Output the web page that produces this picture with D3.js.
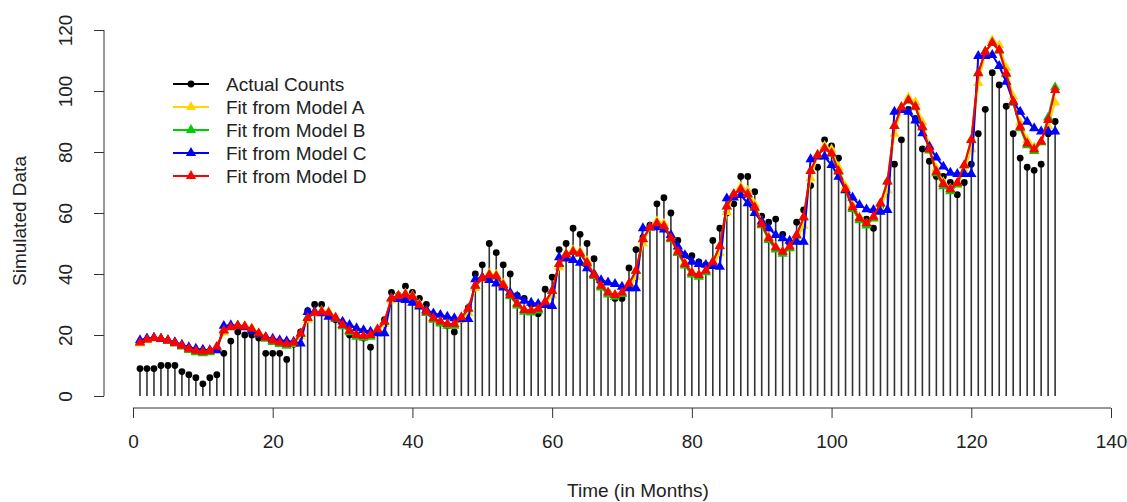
<!DOCTYPE html>
<html>
<head>
<meta charset="utf-8">
<script src="https://cdnjs.cloudflare.com/ajax/libs/d3/7.8.5/d3.min.js"></script>
<style>
  body { margin: 0; background: #fff; }
  text { font-family: "Liberation Sans", Arial, sans-serif; fill: #222; }
</style>
</head>
<body>
<div id="chart"></div>
<script>
/*global d3*/

//monthly actual counts, months 1..132
var actual = [
  9,9,9,10,10,10,8,7,6,4,6,7,
  14,18,21,20,20,19,14,14,14,12,17,21,
  28,30,30,27,25,23,20,20,19,16,21,25,
  34,33,36,34,32,30,26,24,23,21,25,29,
  40,43,50,47,43,40,33,32,30,27,35,39,
  48,50,55,53,50,45,37,34,32,32,42,48,
  52,56,63,65,60,51,46,46,44,43,51,55,
  60,63,72,72,67,59,57,58,53,50,57,61,
  69,75,84,82,78,68,62,58,58,55,62,70,
  76,84,94,91,81,77,72,72,70,66,70,76,
  86,94,106,102,95,86,78,75,74,76,86,90
];

//fitted values from the four models
var fitA = [
  17.2,18.3,18.9,18.8,18.3,17.5,16.6,15.6,14.8,14.4,14.6,15.6,
  20.8,22.6,23.2,23.0,22.2,20.7,19.3,18.2,17.4,16.8,17.0,19.6,
  25.0,27.4,27.9,27.6,25.8,23.4,21.4,19.9,19.5,19.7,21.3,23.6,
  31.4,33.0,33.6,32.9,30.1,27.8,25.6,24.4,23.5,23.3,25.0,27.2,
  35.4,38.8,40.2,39.8,36.9,33.4,30.4,28.3,27.9,28.3,30.1,33.0,
  42.2,46.6,47.8,47.4,44.3,40.2,36.5,34.1,33.1,33.5,35.8,39.0,
  50.0,55.2,57.3,56.6,52.6,48.0,43.8,40.6,39.6,40.6,42.8,46.8,
  60.3,66.0,68.6,67.3,62.9,57.2,52.2,48.9,47.2,48.4,51.3,55.8,
  71.4,78.6,82.0,80.8,75.0,68.8,62.6,58.6,56.5,58.0,61.5,67.4,
  86.0,94.2,97.9,96.3,89.8,82.2,74.5,70.1,68.0,69.2,73.9,80.9,
  102.6,112.1,116.6,115.0,107.6,98.2,89.7,83.9,81.6,83.2,88.4,96.2
];

var fitB = [
  17.6,18.6,19.1,18.8,18.1,17.2,16.2,15.1,14.3,14.0,14.3,15.9,
  21.6,22.6,23.0,22.7,21.8,20.2,18.8,17.7,17.0,16.5,17.1,20.4,
  25.7,27.3,27.5,27.1,25.3,22.9,20.9,19.4,19.1,19.4,21.5,24.3,
  32.1,32.8,33.2,32.4,29.5,27.2,25.0,23.8,23.0,23.0,25.4,28.6,
  36.2,38.6,39.6,39.1,36.1,32.7,29.7,27.6,27.4,28.0,30.6,34.4,
  43.4,46.4,47.2,46.6,43.4,39.3,35.6,33.3,32.5,33.4,36.6,41.0,
  51.5,55.3,56.5,55.5,51.4,46.9,42.8,39.8,39.1,40.6,43.7,49.1,
  62.2,66.2,67.7,66.0,61.6,56.0,51.1,48.0,46.6,48.4,52.5,58.6,
  73.9,79.0,81.1,79.4,73.5,67.4,61.3,57.6,55.9,58.3,63.0,70.4,
  88.6,94.7,96.9,94.7,88.0,80.5,73.0,68.8,67.1,69.4,75.6,84.1,
  106.0,113.0,115.7,113.2,105.5,96.1,87.8,82.2,80.3,83.2,91.3,101.2
];

var fitC = [
  18.3,18.9,19.0,18.7,18.3,17.6,16.8,16.0,15.5,15.2,15.0,15.0,
  23.0,23.2,23.0,22.5,21.3,20.2,19.3,18.8,18.3,18.0,17.8,17.2,
  27.5,27.6,27.1,26.0,25.5,24.4,23.3,22.2,21.6,21.1,20.6,20.6,
  32.0,31.8,31.5,30.6,29.3,28.2,27.1,26.6,26.0,25.5,25.2,25.2,
  38.3,38.9,38.0,36.9,35.6,33.9,32.6,31.2,30.6,30.2,29.8,29.5,
  45.5,45.1,44.6,43.7,41.9,40.0,38.0,37.2,36.7,35.8,35.3,35.3,
  55.0,55.3,55.3,54.6,52.8,49.0,46.2,44.0,43.3,43.0,42.6,42.4,
  64.8,65.1,65.9,63.2,60.0,57.2,55.0,52.8,51.7,50.9,50.6,50.6,
  77.6,78.5,78.5,75.7,71.9,67.5,65.1,62.6,61.2,61.0,60.4,61.0,
  93.2,93.8,93.2,90.3,86.1,81.7,78.2,75.2,73.2,72.8,72.8,72.8,
  111.5,111.5,111.8,108.2,103.0,96.5,93.2,89.9,87.8,86.7,86.7,86.7
];

var fitD = [
  17.5,18.5,19.0,18.8,18.2,17.4,16.5,15.5,14.8,14.5,14.8,16.2,
  21.5,22.5,23.0,22.8,22.0,20.5,19.2,18.2,17.5,17.0,17.5,20.5,
  25.6,27.3,27.6,27.3,25.6,23.3,21.4,20.0,19.7,20.0,21.9,24.4,
  32.0,32.8,33.3,32.6,29.8,27.6,25.5,24.4,23.6,23.6,25.8,28.7,
  36.1,38.6,39.7,39.3,36.4,33.1,30.2,28.2,28.0,28.6,30.9,34.5,
  43.3,46.4,47.3,46.8,43.7,39.7,36.1,33.9,33.1,33.9,36.9,41.1,
  51.4,55.3,56.6,55.7,51.7,47.3,43.3,40.4,39.7,41.1,44.0,49.2,
  62.1,66.2,67.8,66.2,61.9,56.4,51.7,48.7,47.3,49.0,52.8,58.6,
  73.8,79.0,81.2,79.6,73.8,67.8,61.9,58.3,56.6,58.8,63.2,70.3,
  88.5,94.7,97.0,94.9,88.3,80.9,73.5,69.5,67.8,69.9,75.7,83.9,
  105.8,112.9,115.8,113.4,105.8,96.5,88.3,82.8,80.9,83.4,90.5,100.3
];

var xTicks = [0, 20, 40, 60, 80, 100, 120, 140];
var yTicks = [0, 20, 40, 60, 80, 100, 120];

var fits = [
  {name: "Fit from Model A", color: "#FFD700", values: fitA},
  {name: "Fit from Model B", color: "#00CD00", values: fitB},
  {name: "Fit from Model C", color: "#0000FF", values: fitC},
  {name: "Fit from Model D", color: "#FF0000", values: fitD}
];

var W = 1127, H = 502;
var fontSize = "19px";

var svg = d3.select("#chart").append("svg")
    .attr("width", W)
    .attr("height", H);

//scales, plot region in pixels
var x = d3.scaleLinear().domain([0, 140]).range([133, 1111]);
var y = d3.scaleLinear().domain([0, 120]).range([396, 30]);

var axisY = 408, axisX = 104;

//x axis (R style, detached from the plot)
var gx = svg.append("g")
    .attr("transform", "translate(0," + axisY + ")")
    .call(d3.axisBottom(x).tickValues(xTicks).tickSize(10).tickPadding(17).tickSizeOuter(0));
gx.select(".domain").attr("d", "M" + x(0) + ",0H" + x(140)).attr("stroke", "#333");
gx.selectAll(".tick line").attr("stroke", "#333");
gx.selectAll(".tick text")
    .style("font-size", fontSize)
    .style("font-family", "Liberation Sans, Arial, sans-serif")
    .attr("fill", "#222");

//y axis with rotated labels
var gy = svg.append("g")
    .attr("transform", "translate(" + axisX + ",0)")
    .call(d3.axisLeft(y).tickValues(yTicks).tickSize(10).tickSizeOuter(0));
gy.select(".domain").attr("d", "M0," + y(0) + "V" + y(120)).attr("stroke", "#333");
gy.selectAll(".tick line").attr("stroke", "#333");
gy.selectAll(".tick text")
    .attr("x", 0).attr("dy", "0.36em")
    .attr("transform", "translate(-39,0) rotate(-90)")
    .attr("text-anchor", "middle")
    .style("font-size", fontSize)
    .style("font-family", "Liberation Sans, Arial, sans-serif")
    .attr("fill", "#222");

//axis titles
svg.append("text")
    .attr("x", (x(0) + x(140)) / 2 + 16)
    .attr("y", 497)
    .attr("text-anchor", "middle")
    .style("font-size", fontSize)
    .text("Time (in Months)");

svg.append("text")
    .attr("transform", "translate(26," + (y(60) + 8) + ") rotate(-90)")
    .attr("text-anchor", "middle")
    .style("font-size", fontSize)
    .text("Simulated Data");

//actual counts: vertical stems + dots
var counts = actual.map(function(v, i) { return {t: i + 1, v: v}; });

svg.append("g").selectAll("line")
    .data(counts)
    .enter().append("line")
    .attr("x1", function(d) { return x(d.t); })
    .attr("x2", function(d) { return x(d.t); })
    .attr("y1", y(0))
    .attr("y2", function(d) { return y(d.v); })
    .attr("stroke", "#333")
    .attr("stroke-width", 1.6);

svg.append("g").selectAll("circle")
    .data(counts)
    .enter().append("circle")
    .attr("cx", function(d) { return x(d.t); })
    .attr("cy", function(d) { return y(d.v); })
    .attr("r", 3.4)
    .attr("fill", "#000");

//fitted lines with triangle markers
var line = d3.line()
    .x(function(d, i) { return x(i + 1); })
    .y(function(d) { return y(d); });

var tri = d3.symbol().type(d3.symbolTriangle).size(46);

fits.forEach(function(f) {
    var g = svg.append("g");
    g.append("path")
        .attr("d", line(f.values))
        .attr("fill", "none")
        .attr("stroke", f.color)
        .attr("stroke-width", 2);
    g.selectAll("path.pt")
        .data(f.values)
        .enter().append("path")
        .attr("class", "pt")
        .attr("d", tri)
        .attr("transform", function(d, i) { return "translate(" + x(i + 1) + "," + y(d) + ")"; })
        .attr("fill", f.color);
});

//legend
var legendItems = [{name: "Actual Counts", color: "#000", dot: true}].concat(fits);
var lg = svg.append("g").attr("transform", "translate(173,84)");
var row = lg.selectAll("g")
    .data(legendItems)
    .enter().append("g")
    .attr("transform", function(d, i) { return "translate(0," + (i * 23) + ")"; });
row.append("line")
    .attr("x1", 0).attr("x2", 36)
    .attr("stroke", function(d) { return d.color; })
    .attr("stroke-width", 2);
row.each(function(d) {
    var r = d3.select(this);
    if (d.dot) {
        r.append("circle").attr("cx", 18).attr("r", 3.4).attr("fill", d.color);
    } else {
        r.append("path").attr("d", tri).attr("transform", "translate(18,0)").attr("fill", d.color);
    }
});
row.append("text")
    .attr("x", 53)
    .attr("dy", "0.36em")
    .style("font-size", fontSize)
    .text(function(d) { return d.name; });
</script>
</body>
</html>
